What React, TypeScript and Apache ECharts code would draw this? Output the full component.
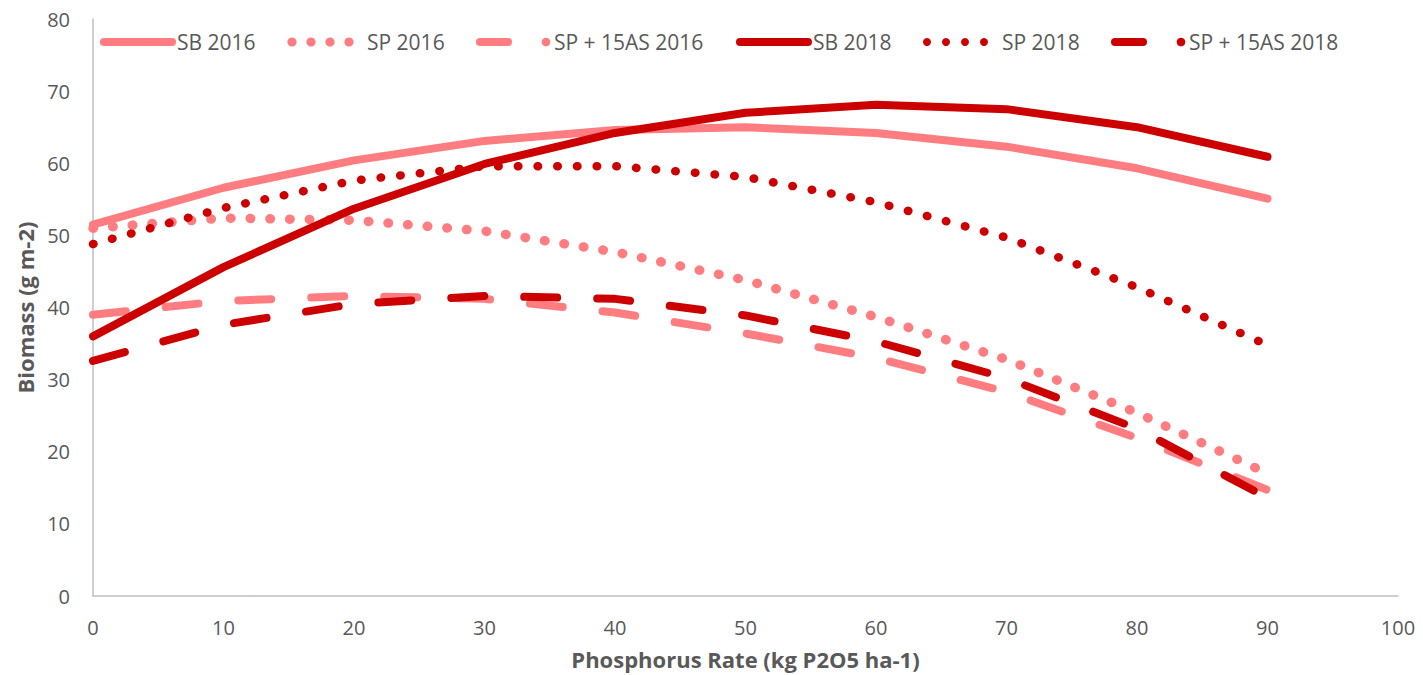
import React, { useEffect, useRef } from "react";
import * as echarts from "echarts";

const xValues = [0, 10, 20, 30, 40, 50, 60, 70, 80, 90];
const sb2016 = [51.5, 56.6, 60.4, 63.1, 64.6, 65.0, 64.2, 62.3, 59.3, 55.1];
const sp2016 = [51.0, 52.4, 52.1, 50.6, 47.7, 43.8, 38.7, 32.8, 25.4, 17.0];
const sp15as2016 = [39.0, 40.9, 41.6, 41.2, 39.3, 36.4, 33.0, 28.3, 21.9, 14.7];
const sb2018 = [36.0, 45.6, 53.7, 59.9, 64.2, 67.0, 68.1, 67.5, 65.0, 60.9];
const sp2018 = [48.8, 53.8, 57.6, 59.6, 59.6, 58.1, 54.6, 49.7, 42.8, 34.8];
const sp15as2018 = [32.6, 37.6, 40.5, 41.6, 41.2, 38.9, 35.3, 30.2, 23.2, 13.6];

const seriesNames = ["SB 2016", "SP 2016", "SP + 15AS 2016", "SB 2018", "SP 2018", "SP + 15AS 2018"];
const seriesValues = [sb2016, sp2016, sp15as2016, sb2018, sp2018, sp15as2018];
const styleKinds = ["solid", "dot", "dash", "solid", "dot", "dash"];

const LIGHT = "#FF7C80";
const DARK = "#CC0000";
const colors = [LIGHT, LIGHT, LIGHT, DARK, DARK, DARK];
const FONT = "'Open Sans', sans-serif";
const TEXT = "#595959";

// legend layout (pixel positions of each entry's sample start)
const legendStarts = [100, 292, 476, 736, 927, 1111];
const legendY = 42;

function buildLegend() {
  const els: any[] = [];
  seriesNames.forEach((name, i) => {
    const c = colors[i];
    const x0 = legendStarts[i];
    const kind = styleKinds[i];
    let textX = 0;
    if (kind === "solid") {
      els.push({
        type: "line",
        shape: { x1: x0 + 4, y1: legendY, x2: x0 + 72, y2: legendY },
        style: { stroke: c, lineWidth: 8, lineCap: "round" },
        silent: true,
      });
      textX = x0 + 77;
    } else if (kind === "dot") {
      for (let k = 0; k < 4; k++) {
        els.push({
          type: "circle",
          shape: { cx: x0 + k * 19, cy: legendY, r: i < 3 ? 4.6 : 4.0 },
          style: { fill: c },
          silent: true,
        });
      }
      textX = x0 + 75;
    } else {
      els.push({
        type: "line",
        shape: { x1: x0 + 4, y1: legendY, x2: x0 + 32, y2: legendY },
        style: { stroke: c, lineWidth: 8, lineCap: "round" },
        silent: true,
      });
      els.push({
        type: "circle",
        shape: { cx: x0 + 70, cy: legendY, r: 4.3 },
        style: { fill: c },
        silent: true,
      });
      textX = x0 + 78;
    }
    els.push({
      type: "text",
      x: textX,
      y: legendY,
      style: {
        text: name,
        fill: TEXT,
        font: `21px ${FONT}`,
        textAlign: "left",
        textVerticalAlign: "middle",
      },
      silent: true,
    });
  });
  return els;
}

export default function App() {
  const ref = useRef<HTMLDivElement>(null);
  useEffect(() => {
    if (!ref.current) return;
    const chart = echarts.init(ref.current, null, { renderer: "svg" });
    const series = seriesNames.map((name, i) => {
      const kind = styleKinds[i];
      const lineStyle: any = {
        color: colors[i],
        width: 8,
        type: "solid",
        cap: "round",
        join: "round",
      };
      if (kind === "dot") {
        lineStyle.width = i < 3 ? 9.5 : 8.5;
        lineStyle.type = [0.5, 19.2];
      } else if (kind === "dash") {
        lineStyle.type = [33, 40];
      }
      return {
        name,
        type: "line",
        data: xValues.map((x, j) => [x, seriesValues[i][j]]),
        showSymbol: false,
        symbol: "none",
        smooth: false,
        lineStyle,
        itemStyle: { color: colors[i] },
        z: 2 + i,
      };
    });
    chart.setOption({
      animation: false,
      backgroundColor: "#ffffff",
      textStyle: { fontFamily: FONT },
      grid: { left: 93, right: 25, top: 19, bottom: 79, containLabel: false },
      xAxis: {
        type: "value",
        min: 0,
        max: 100,
        interval: 10,
        name: "Phosphorus Rate (kg P2O5 ha-1)",
        nameLocation: "middle",
        nameGap: 52,
        nameTextStyle: { fontSize: 22, fontWeight: "bold", color: TEXT, fontFamily: FONT },
        axisLine: { show: true, lineStyle: { color: "#BFBFBF", width: 1.5 } },
        axisTick: { show: false },
        splitLine: { show: false },
        axisLabel: { fontSize: 20, color: TEXT, margin: 21, fontFamily: FONT },
      },
      yAxis: {
        type: "value",
        min: 0,
        max: 80,
        interval: 10,
        name: "Biomass (g m-2)",
        nameLocation: "middle",
        nameGap: 57,
        nameRotate: 90,
        nameTextStyle: { fontSize: 22, fontWeight: "bold", color: TEXT, fontFamily: FONT },
        axisLine: { show: true, lineStyle: { color: "#BFBFBF", width: 1.5 } },
        axisTick: { show: false },
        splitLine: { show: false },
        axisLabel: { fontSize: 20, color: TEXT, margin: 23, fontFamily: FONT },
      },
      series,
      graphic: buildLegend(),
    });
    return () => chart.dispose();
  }, []);
  return <div ref={ref} style={{ width: 1423, height: 675, position: "absolute", left: 0, top: 0 }} />;
}
